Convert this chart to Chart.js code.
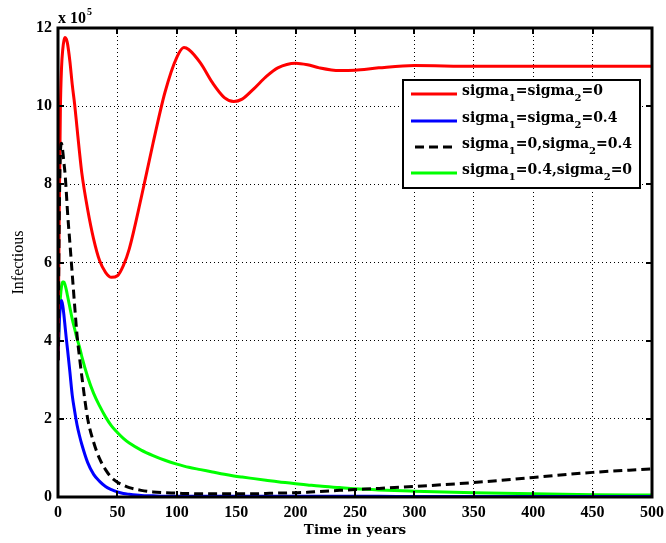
<!DOCTYPE html>
<html>
<head>
<meta charset="utf-8">
<script src="https://cdn.jsdelivr.net/npm/chart.js@4/dist/chart.umd.min.js"></script>
<style>
  html, body { margin: 0; padding: 0; background: #fff; }
  #wrap { width: 666px; height: 543px; }
</style>
</head>
<body>
<div id="wrap"><canvas id="infChart" width="666" height="543"></canvas></div>
<script>
// time axis (years) shared by every series
const years = [0, 1, 2, 3, 4, 5, 6, 7, 8, 10, 12, 14, 16, 18, 20, 25, 30, 35, 40, 45, 50, 55, 60, 70, 80, 90,
    100, 106, 110, 120, 130, 140, 148, 155, 165, 175, 185, 200, 210, 220, 237, 250, 270, 300, 350, 400, 450, 500];

// infectious, in units of 10^5
const bothZero = [3.5, 7.2, 9.9, 11.0, 11.45, 11.68, 11.76, 11.72, 11.6, 11.15, 10.55, 10.05, 9.45, 8.85, 8.3, 7.35, 6.6, 6.05, 5.75, 5.62, 5.66, 5.92, 6.35, 7.65, 9.05, 10.35,
    11.25, 11.5, 11.45, 11.1, 10.6, 10.22, 10.12, 10.18, 10.45, 10.75, 10.98, 11.1, 11.06, 10.98, 10.91, 10.92, 10.98, 11.04, 11.02, 11.02, 11.02, 11.02];
const bothPoint4 = [3.5, 4.4, 4.9, 5.03, 4.9, 4.65, 4.35, 4.05, 3.78, 3.2, 2.6, 2.2, 1.85, 1.58, 1.35, 0.88, 0.58, 0.4, 0.27, 0.19, 0.13, 0.09, 0.07, 0.04, 0.03, 0.02,
    0.02, 0.02, 0.02, 0.02, 0.02, 0.02, 0.02, 0.02, 0.02, 0.02, 0.02, 0.02, 0.02, 0.02, 0.02, 0.02, 0.02, 0.01, 0.01, 0.01, 0.01, 0.01];
const sigma2Only = [3.5, 7.0, 8.8, 9.05, 8.85, 8.55, 8.25, 7.8, 7.3, 6.5, 5.7, 4.9, 4.15, 3.6, 3.1, 2.0, 1.4, 0.98, 0.7, 0.5, 0.38, 0.3, 0.24, 0.17, 0.13, 0.11,
    0.1, 0.09, 0.09, 0.08, 0.08, 0.08, 0.08, 0.08, 0.08, 0.09, 0.1, 0.11, 0.12, 0.14, 0.17, 0.19, 0.22, 0.27, 0.37, 0.5, 0.63, 0.72];
const sigma1Only = [3.6, 4.5, 5.1, 5.4, 5.5, 5.5, 5.42, 5.3, 5.15, 4.85, 4.55, 4.3, 4.05, 3.85, 3.6, 3.07, 2.65, 2.33, 2.05, 1.82, 1.65, 1.5, 1.38, 1.2, 1.06, 0.94,
    0.84, 0.79, 0.76, 0.7, 0.64, 0.58, 0.54, 0.51, 0.47, 0.43, 0.39, 0.34, 0.31, 0.28, 0.24, 0.21, 0.18, 0.15, 0.11, 0.08, 0.06, 0.05];

const xTicks = [0, 50, 100, 150, 200, 250, 300, 350, 400, 450, 500];
const yTicks = [0, 2, 4, 6, 8, 10, 12];

// legend labels: [base, sub, base, sub, tail]
const legendLabels = [
    ['sigma', '1', '=sigma', '2', '=0'],
    ['sigma', '1', '=sigma', '2', '=0.4'],
    ['sigma', '1', '=0,sigma', '2', '=0.4'],
    ['sigma', '1', '=0.4,sigma', '2', '=0'],
];

const toPoints = (values) => years.map((x, i) => ({ x, y: values[i] }));

const series = [
    { data: bothZero, color: '#ff0000', dash: [] },
    { data: bothPoint4, color: '#0000ff', dash: [] },
    { data: sigma2Only, color: '#000000', dash: [9, 5] },
    { data: sigma1Only, color: '#00ff00', dash: [] },
];

const serif = '"Liberation Serif", "DejaVu Serif", serif';
const wideSerif = '"DejaVu Serif", serif';

const framePlugin = {
    id: 'frame',
    afterDraw(chart) {
        const { ctx, chartArea: a, scales } = chart;
        ctx.save();
        ctx.strokeStyle = '#000';
        ctx.setLineDash([]);

        // inward tick marks
        ctx.lineWidth = 2;
        ctx.beginPath();
        xTicks.forEach((v) => {
            const px = Math.round(scales.x.getPixelForValue(v));
            ctx.moveTo(px, a.top); ctx.lineTo(px, a.top + 6);
            ctx.moveTo(px, a.bottom); ctx.lineTo(px, a.bottom - 6);
        });
        yTicks.forEach((v) => {
            const py = Math.round(scales.y.getPixelForValue(v));
            ctx.moveTo(a.left, py); ctx.lineTo(a.left + 6, py);
            ctx.moveTo(a.right, py); ctx.lineTo(a.right - 6, py);
        });
        ctx.stroke();

        // axes box
        ctx.lineWidth = 3;
        ctx.strokeRect(a.left, a.top, a.right - a.left, a.bottom - a.top);

        // exponent label
        ctx.fillStyle = '#000';
        ctx.textBaseline = 'alphabetic';
        ctx.textAlign = 'left';
        ctx.font = 'bold 16px ' + serif;
        ctx.fillText('x 10', a.left, 23);
        const w = ctx.measureText('x 10').width;
        ctx.font = 'bold 10px ' + serif;
        ctx.fillText('5', a.left + w + 1, 15);

        // legend
        const lx = 403, ly = 80, lw = 237, lh = 108;
        ctx.fillStyle = '#fff';
        ctx.fillRect(lx, ly, lw, lh);
        ctx.lineWidth = 2;
        ctx.strokeRect(lx, ly, lw, lh);
        const rows = [94, 121, 147, 173];
        legendLabels.forEach((parts, i) => {
            const s = series[i];
            const y = rows[i];
            ctx.lineWidth = 3;
            ctx.strokeStyle = s.color;
            ctx.setLineDash(s.dash.length ? [9, 5] : []);
            ctx.beginPath();
            ctx.moveTo(s.dash.length ? 415 : 411, y);
            ctx.lineTo(457, y);
            ctx.stroke();
            ctx.setLineDash([]);

            ctx.fillStyle = '#000';
            let tx = 462;
            parts.forEach((p, j) => {
                const isSub = j % 2 === 1;
                ctx.font = isSub ? 'bold 10px ' + wideSerif : 'bold 14px ' + wideSerif;
                ctx.fillText(p, tx, isSub ? y + 7 : y + 1);
                tx += ctx.measureText(p).width;
            });
        });
        ctx.restore();
    },
};

new Chart(document.getElementById('infChart'), {
    type: 'line',
    data: {
        datasets: series.map((s, i) => ({
            label: legendLabels[i].join(''),
            data: toPoints(s.data),
            borderColor: s.color,
            borderDash: s.dash,
            borderWidth: 3,
            pointRadius: 0,
            fill: false,
            cubicInterpolationMode: 'monotone',
            order: i === 2 ? 0 : i + 1,
        })),
    },
    options: {
        responsive: false,
        animation: false,
        layout: { padding: { top: 28, right: 14, left: 0, bottom: 0 } },
        plugins: { legend: { display: false }, tooltip: { enabled: false } },
        scales: {
            x: {
                type: 'linear',
                min: 0,
                max: 500,
                afterBuildTicks: (scale) => { scale.ticks = xTicks.map((v) => ({ value: v })); },
                afterFit: (scale) => { scale.height = 46; scale.paddingLeft = 0; scale.paddingRight = 0; },
                ticks: { color: '#000', padding: 6, font: { family: serif, size: 16, weight: 'bold' } },
                grid: { color: '#000', lineWidth: 1, drawTicks: false },
                border: { display: false, dash: [1, 3] },
                title: {
                    display: true,
                    text: 'Time in years',
                    color: '#000',
                    font: { family: wideSerif, size: 13.5, weight: 'bold' },
                    padding: { top: 0, bottom: 4 },
                },
            },
            y: {
                type: 'linear',
                min: 0,
                max: 12,
                afterBuildTicks: (scale) => { scale.ticks = yTicks.map((v) => ({ value: v })); },
                afterFit: (scale) => { scale.width = 58; scale.paddingTop = 0; scale.paddingBottom = 0; },
                ticks: { color: '#000', padding: 6, font: { family: serif, size: 16, weight: 'bold' } },
                grid: { color: '#000', lineWidth: 1, drawTicks: false },
                border: { display: false, dash: [1, 3] },
                title: {
                    display: true,
                    text: 'Infectious',
                    color: '#000',
                    font: { family: serif, size: 16 },
                    padding: { top: 9, bottom: 0 },
                },
            },
        },
    },
    plugins: [framePlugin],
});
</script>
</body>
</html>
